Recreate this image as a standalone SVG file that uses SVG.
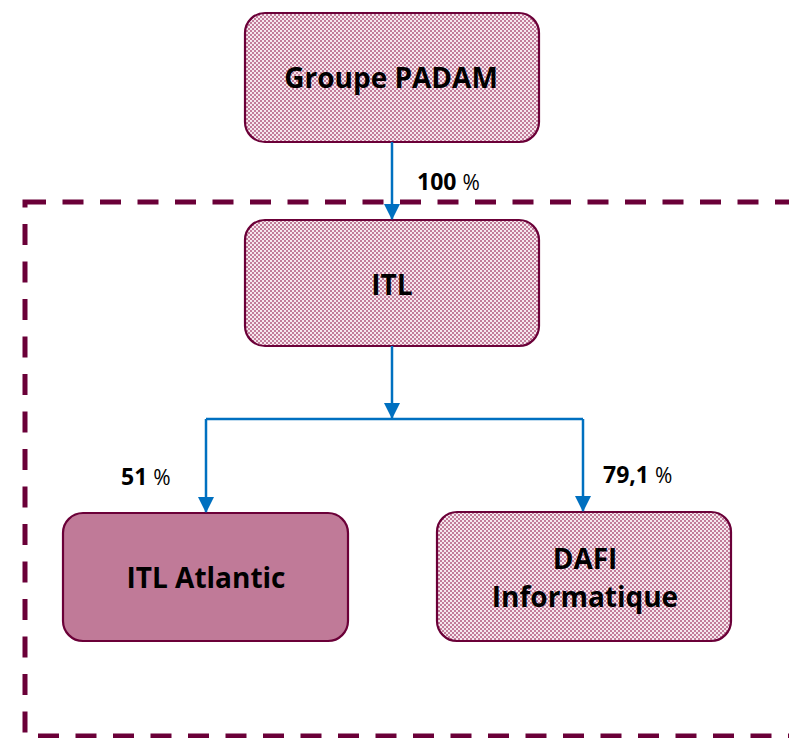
<svg xmlns="http://www.w3.org/2000/svg" width="789" height="738" viewBox="0 0 789 738">
<defs>
<pattern id="chk" width="4" height="4" patternUnits="userSpaceOnUse">
<rect width="4" height="4" fill="#f6e8ee"/>
<rect x="0" y="0" width="2" height="2" fill="#c27c9a"/>
<rect x="2" y="2" width="2" height="2" fill="#c27c9a"/>
</pattern>
<marker id="arr" markerWidth="16" markerHeight="16" viewBox="0 0 16 16" refX="15" refY="8" orient="auto" markerUnits="userSpaceOnUse">
<path d="M0,0 L16,8 L0,16 Z" fill="#0070c0"/>
</marker>
<style>
.box{stroke:#6b0038;stroke-width:2.2}
.hat{fill:url(#chk)}
.solid{fill:#c07a98}
.lbl{font-family:"Open Sans","Liberation Sans",sans-serif;font-weight:bold;font-size:28px;fill:#000;text-anchor:middle}
.pct{font-family:"Open Sans","Liberation Sans",sans-serif;font-weight:bold;font-size:23px;fill:#000}
.pct tspan{font-weight:normal;font-size:21px}
.con{stroke:#0070c0;stroke-width:2.5;fill:none}
</style>
</defs>
<rect x="25" y="202" width="800" height="534" fill="none" stroke="#6b0038" stroke-width="5" stroke-dasharray="21 16.5"/>
<g id="n-padam">
<rect class="box hat" x="245" y="13" width="294" height="129" rx="20"/>
<text class="lbl" x="391" y="88">Groupe PADAM</text>
</g>
<g id="n-itl">
<rect class="box hat" x="245" y="220" width="294" height="126" rx="20"/>
<text class="lbl" x="392" y="295">ITL</text>
</g>
<g id="n-atlantic">
<rect class="box solid" x="63" y="513" width="285" height="128" rx="20"/>
<text class="lbl" x="206" y="588">ITL Atlantic</text>
</g>
<g id="n-dafi">
<rect class="box hat" x="437" y="512" width="294" height="129" rx="20"/>
<text class="lbl" x="585" y="569">DAFI</text>
<text class="lbl" x="585" y="607">Informatique</text>
</g>
<g id="connectors">
<line class="con" x1="392" y1="142" x2="392" y2="219" marker-end="url(#arr)"/>
<line class="con" x1="392" y1="346" x2="392" y2="418" marker-end="url(#arr)"/>
<polyline class="con" points="206,419 583,419"/>
<line class="con" x1="206" y1="419" x2="206" y2="512" marker-end="url(#arr)"/>
<line class="con" x1="583" y1="419" x2="583" y2="511" marker-end="url(#arr)"/>
</g>
<text class="pct" x="417" y="190">100 <tspan>%</tspan></text>
<text class="pct" x="121" y="485">51 <tspan>%</tspan></text>
<text class="pct" x="603" y="483">79,1 <tspan>%</tspan></text>
</svg>
